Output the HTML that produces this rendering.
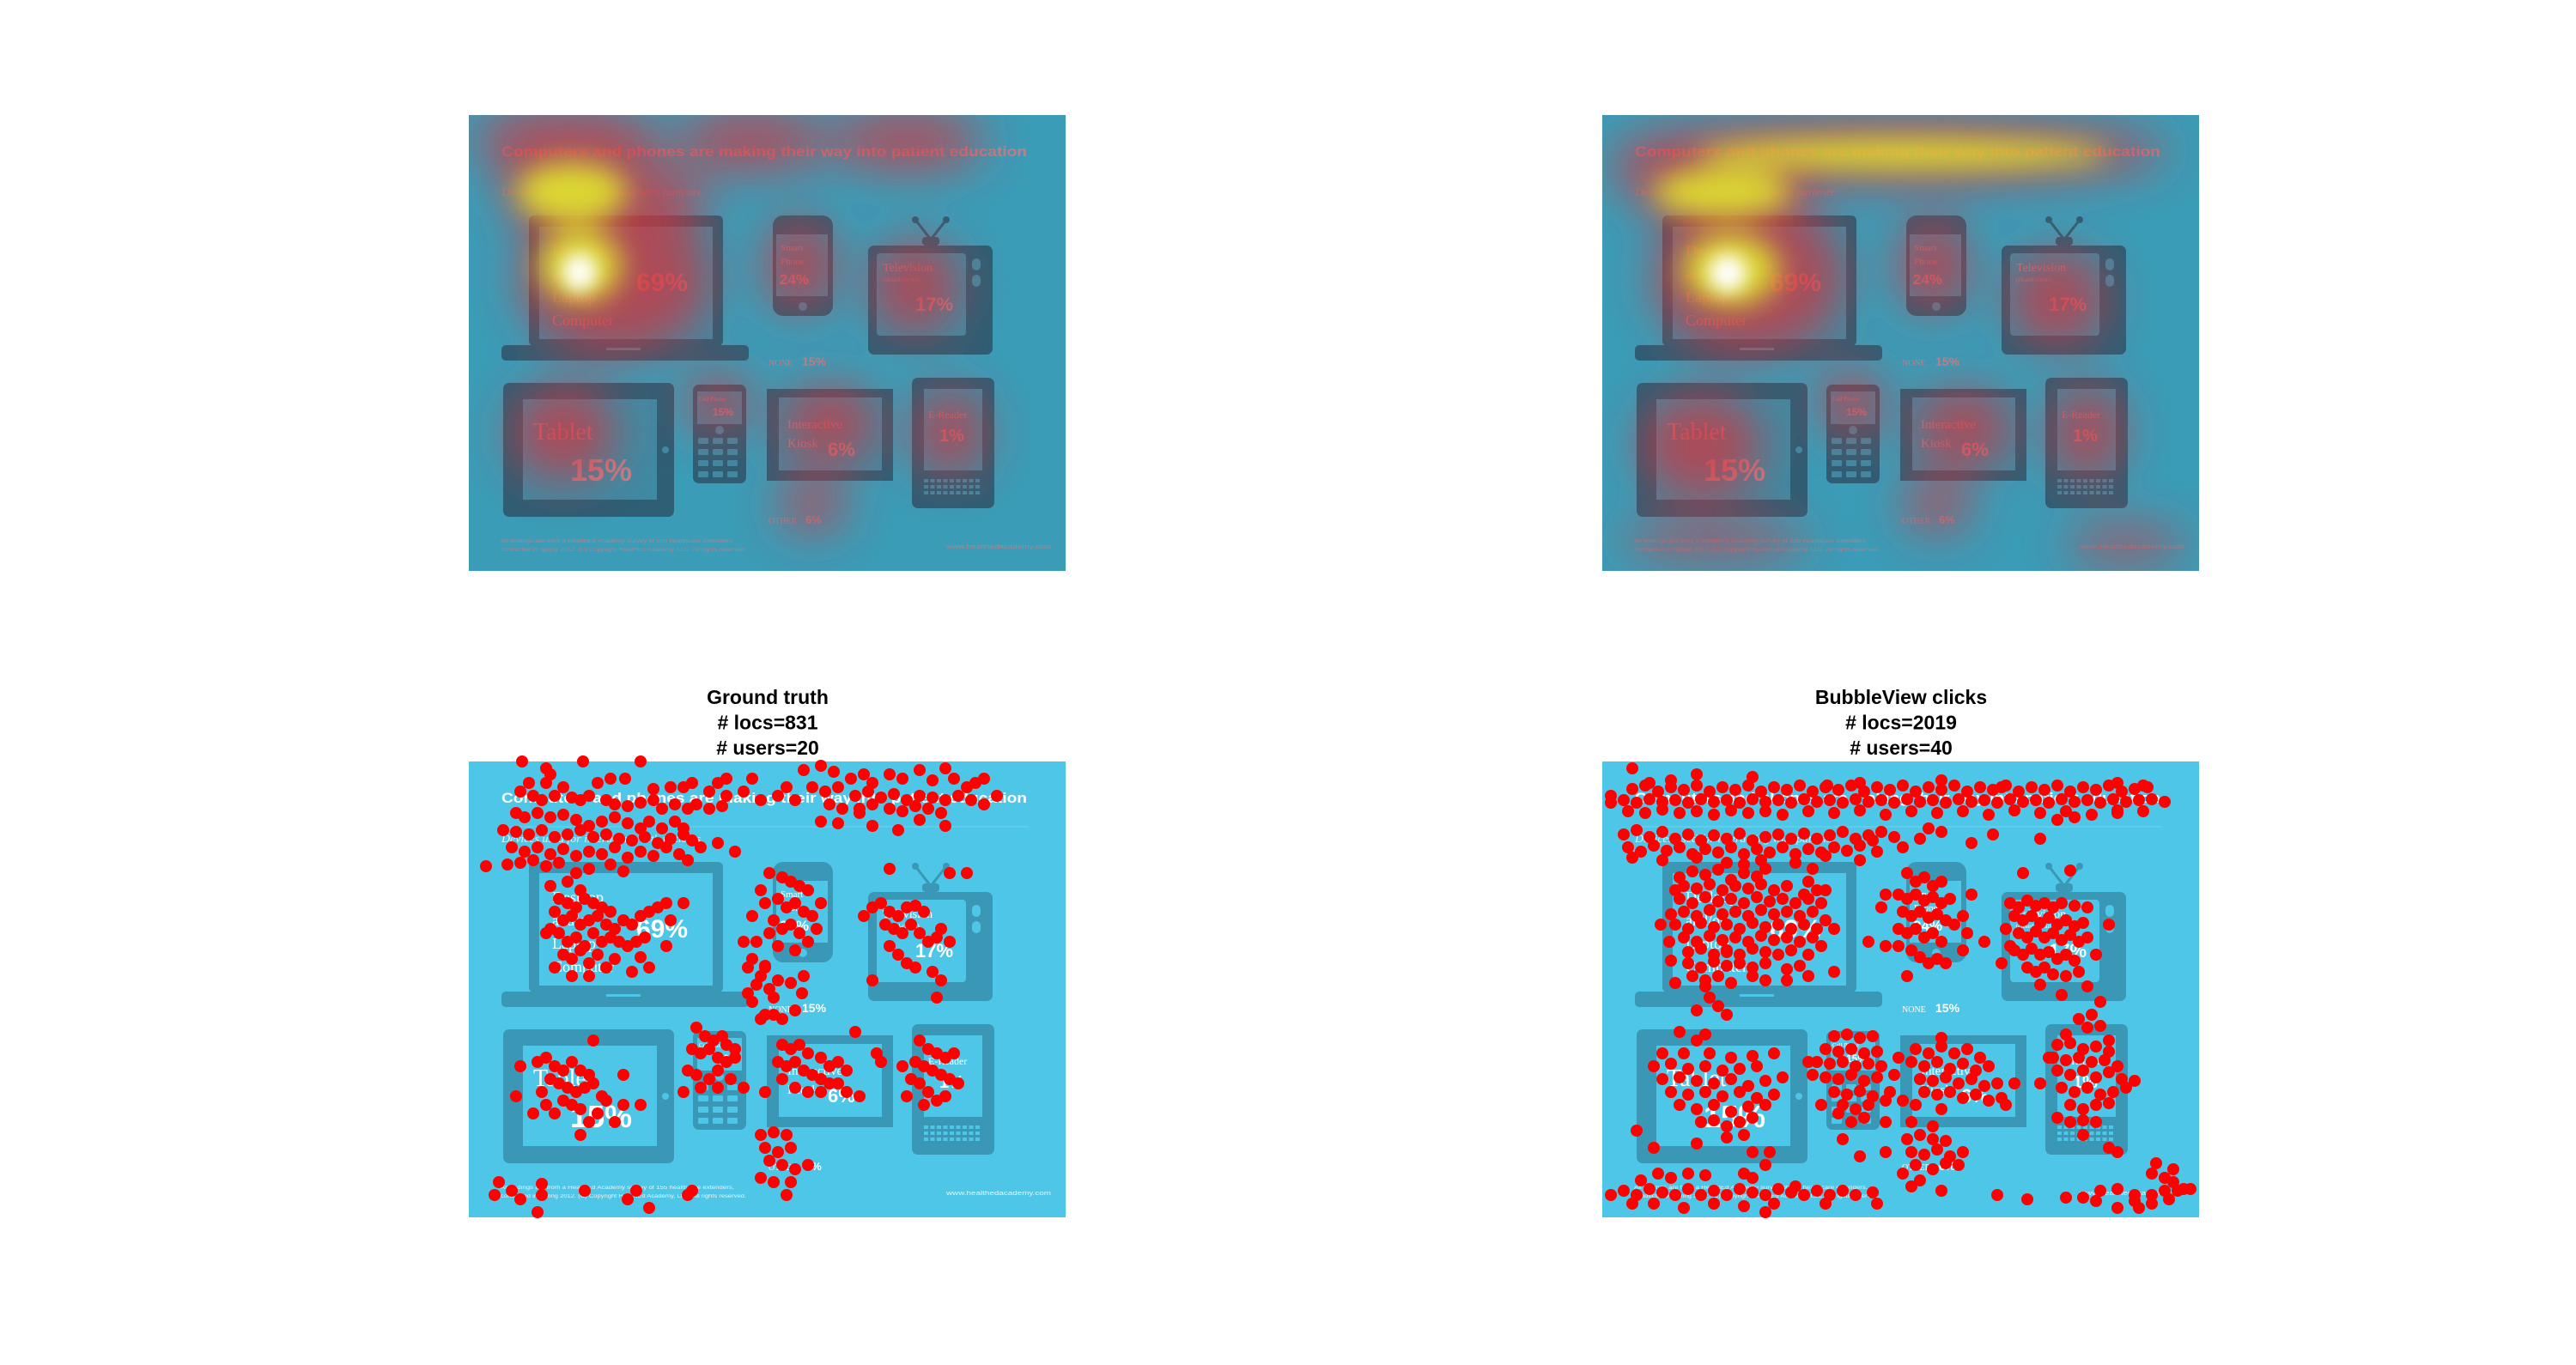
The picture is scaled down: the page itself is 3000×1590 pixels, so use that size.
<!DOCTYPE html>
<html><head><meta charset="utf-8"><style>
html,body{margin:0;padding:0;background:#fff;}
svg{display:block;}
</style></head><body>
<svg id="chart" width="3000" height="1590" viewBox="0 0 3000 1590" xmlns="http://www.w3.org/2000/svg">
<defs>
<filter id="b1" x="-50%" y="-50%" width="200%" height="200%"><feGaussianBlur stdDeviation="28"/></filter>
<filter id="b2" x="-50%" y="-50%" width="200%" height="200%"><feGaussianBlur stdDeviation="16"/></filter>
<filter id="b3" x="-50%" y="-50%" width="200%" height="200%"><feGaussianBlur stdDeviation="10"/></filter>
<clipPath id="pc"><rect x="0" y="0" width="695" height="531"/></clipPath>
</defs>
<g id="root"></g>
</svg>
<script>
// Panel placement
const panels = [
  {x:546, y:134, kind:'heat', heat:'gt'},
  {x:1866, y:134, kind:'heat', heat:'bv'},
  {x:546, y:887, kind:'dots', set:'gt'},
  {x:1866, y:887, kind:'dots', set:'bv'}
];
// Heat blobs: [x, y, rx, ry, level] level 1=red, 2=yellow, 3=white (panel coords)
const heatGT = [[115,30,110,40,1],[330,30,90,35,1],[510,30,90,35,1],[120,90,80,50,2],[130,175,60,60,2],[129,183,20,22,3],[385,175,40,55,1],[520,200,50,55,1],[110,370,60,55,1],[290,335,35,35,1],[420,360,55,45,1],[560,370,40,50,1],[400,455,40,30,1],[170,190,110,90,1],[160,95,120,40,1]];
const heatBV = [[340,42,320,38,1],[120,60,110,45,1],[350,45,300,26,2],[140,90,100,40,2],[150,180,70,60,2],[146,184,22,22,3],[385,175,40,55,1],[530,215,55,55,1],[115,385,70,60,1],[290,335,35,40,1],[420,365,55,45,1],[565,370,40,55,1],[130,495,110,20,1],[610,500,70,20,1],[390,455,40,30,1],[170,190,110,90,1]];
// Click locations (panel coords)
const gtPts = "62,0 133,0 200,0 90,8 95,15 70,25 90,25 110,30 150,25 165,20 182,20 215,32 235,30 250,30 260,25 290,25 300,20 330,20 60,35 75,40 85,45 100,40 120,42 130,45 140,40 160,45 170,50 185,52 200,48 215,45 225,55 240,50 255,55 265,50 280,55 295,52 55,60 65,65 80,60 95,65 110,62 125,68 140,75 155,70 170,65 185,72 200,78 210,70 225,78 240,70 250,78 40,80 55,82 70,85 85,80 100,88 115,85 130,80 145,88 160,85 175,90 190,92 205,88 220,95 235,90 250,85 260,92 50,100 65,105 80,100 95,108 110,102 125,110 140,105 155,108 170,100 185,112 200,105 215,110 230,100 245,108 255,115 45,120 60,118 75,115 90,122 105,118 140,125 165,120 180,128 20,122 270,100 290,95 310,105 390,10 410,5 425,12 445,20 460,15 470,25 490,15 505,20 525,10 540,22 555,8 565,20 580,30 590,25 600,20 400,30 415,35 430,30 450,40 465,35 480,42 495,38 510,45 525,40 540,42 555,45 570,40 585,45 600,50 420,50 435,55 455,55 470,50 490,55 505,58 520,52 535,55 550,60 380,45 360,40 320,35 340,45 300,40 280,35 410,70 430,72 455,60 470,75 525,68 555,75 500,80 370,30 615,40 95,145 115,140 125,130 130,150 105,160 115,165 125,170 135,160 145,165 155,170 165,175 100,175 110,185 120,180 130,190 140,185 150,180 160,190 170,195 180,185 190,190 200,180 210,175 220,170 230,165 95,195 105,200 115,210 125,205 135,215 145,200 155,210 165,205 175,210 185,215 195,210 205,205 110,225 120,230 130,220 140,235 150,225 160,240 170,230 190,245 200,228 90,200 100,240 120,250 140,250 210,240 230,215 235,185 250,165 350,130 365,135 375,140 385,145 395,150 345,165 360,160 370,170 380,165 390,175 400,180 355,185 365,195 375,190 385,200 395,210 405,195 410,165 340,150 350,200 330,180 335,210 360,215 380,220 345,238 325,240 470,170 480,165 490,175 500,180 510,170 520,168 530,175 485,190 495,195 505,200 515,190 525,200 535,210 545,205 550,195 560,210 490,215 500,225 510,235 520,240 540,245 550,255 470,255 545,275 460,180 490,125 560,130 580,130 320,210 330,230 335,260 325,270 330,280 340,250 345,240 350,265 355,275 360,255 345,295 340,300 355,295 365,300 380,290 375,258 390,250 388,270 60,355 80,350 90,345 100,355 110,360 120,350 130,360 140,365 95,370 105,375 115,380 125,385 135,380 145,375 155,390 85,385 90,400 100,410 110,395 120,400 130,405 140,420 150,410 160,395 170,420 180,400 130,435 75,410 55,390 180,365 200,400 145,325 265,310 275,320 285,325 295,320 300,330 310,335 260,335 270,340 280,335 290,345 300,350 310,345 255,360 265,365 280,370 290,360 305,370 320,380 250,385 270,380 290,380 365,330 375,335 385,330 395,340 410,345 420,355 430,350 440,360 360,350 370,355 380,350 390,360 400,365 410,370 420,375 365,370 380,380 395,385 410,385 430,375 440,385 455,390 345,385 450,315 475,340 480,350 525,325 535,335 545,340 555,345 565,340 520,350 530,355 540,360 550,365 560,370 570,375 515,370 525,375 535,385 545,395 555,390 510,390 530,400 505,355 340,435 355,432 370,435 345,450 360,455 375,450 350,465 365,470 380,475 395,470 340,485 355,490 370,505 375,490 35,490 50,500 30,505 60,510 85,505 85,492 135,500 80,525 185,510 195,500 255,505 260,500 210,520";
const bvPts = "35,32 50,28 65,35 80,30 95,33 110,28 125,35 140,30 155,33 170,28 185,35 200,30 215,33 230,28 245,35 260,30 275,33 290,28 305,35 320,30 335,33 350,28 365,35 380,30 395,33 410,28 425,35 440,30 455,33 470,28 485,35 500,30 515,33 530,28 545,35 560,30 575,33 590,28 605,35 620,32 635,30 25,45 40,48 55,44 70,47 85,45 100,48 115,44 130,47 145,45 160,48 175,44 190,47 205,45 220,48 235,44 250,47 265,45 280,48 295,44 310,47 325,45 340,48 355,44 370,47 385,45 400,48 415,44 430,47 445,45 460,48 475,44 490,47 505,45 520,48 535,44 550,47 565,45 580,48 595,44 610,47 625,45 640,44 655,47 30,58 50,60 70,56 90,60 110,58 130,62 150,57 170,60 190,58 210,62 240,58 270,60 300,57 330,62 360,58 390,60 420,58 450,62 480,57 510,60 540,58 570,62 600,57 630,58 35,8 110,15 80,22 55,25 175,18 300,25 262,28 395,22 465,30 600,25 630,28 10,48 10,40 550,65 600,60 530,68 25,85 40,80 55,88 70,82 85,90 100,85 115,92 130,86 145,90 160,84 175,92 190,88 205,85 220,90 235,84 250,90 265,86 280,82 295,90 310,86 325,82 340,88 30,100 45,105 60,98 75,104 90,100 105,108 120,102 135,106 150,100 165,108 180,102 195,106 210,100 225,108 240,102 255,106 270,100 285,104 300,98 315,92 35,112 70,115 110,112 145,118 185,115 225,118 260,110 190,125 245,125 165,120 370,90 380,78 395,82 430,95 455,85 510,90 300,115 320,105 350,100 90,135 105,128 120,132 135,126 150,138 165,130 180,134 240,140 250,150 85,150 95,145 110,148 125,143 140,150 155,145 170,148 185,143 200,150 215,145 235,155 260,150 90,160 105,165 120,158 135,163 150,160 165,165 180,158 195,163 210,160 225,165 240,160 255,165 80,178 95,175 110,180 125,173 140,178 155,175 170,180 185,173 200,178 215,175 230,180 245,175 260,185 85,190 100,195 115,188 130,193 145,190 160,195 175,188 190,193 205,190 220,195 235,190 250,195 270,195 95,205 110,210 125,203 140,208 155,205 170,210 185,203 200,208 215,205 230,210 245,205 255,215 100,222 115,218 130,225 145,220 160,225 175,218 190,222 205,225 220,220 240,225 100,235 115,240 130,233 145,238 160,235 175,240 190,235 215,242 230,238 105,250 120,255 135,250 150,258 175,250 190,255 215,255 240,250 270,245 80,232 78,210 68,190 85,258 120,262 125,275 135,285 145,295 110,290 145,222 355,130 365,140 375,135 385,145 395,140 345,155 355,160 365,155 375,162 385,158 395,165 405,160 350,175 360,180 370,175 380,182 390,178 400,185 410,190 345,195 355,200 365,195 375,205 385,200 395,210 360,220 370,228 380,235 390,230 420,180 430,155 425,200 445,210 420,220 330,215 345,215 355,250 400,235 310,210 330,155 325,170 475,165 485,170 495,162 505,168 515,165 525,170 535,165 550,168 565,170 590,190 480,180 490,185 500,180 510,188 520,182 530,190 540,185 550,192 560,188 470,195 485,200 495,205 505,198 515,205 525,200 535,208 545,202 555,210 565,205 480,220 490,225 500,218 510,225 520,222 530,230 540,225 550,232 495,240 505,245 515,240 525,248 540,250 555,245 510,260 565,262 535,272 475,215 575,225 490,130 545,127 465,235 580,280 90,315 120,318 110,325 70,340 95,340 125,340 150,345 175,343 200,340 60,355 80,352 100,358 120,355 140,360 160,358 180,355 70,370 90,368 110,372 130,375 150,370 170,378 190,372 210,368 80,385 100,388 120,385 140,390 160,385 180,392 200,388 90,400 110,405 130,400 150,408 170,402 190,400 115,420 130,418 145,425 160,420 175,415 145,438 165,435 110,445 175,455 40,430 65,480 195,455 270,320 285,318 300,322 315,320 260,335 275,338 290,335 305,340 320,338 250,350 265,352 280,350 295,355 310,352 325,355 260,368 275,370 290,365 305,372 320,368 270,385 285,388 300,384 315,390 280,400 295,405 310,400 290,420 305,415 330,420 245,365 240,350 255,400 275,410 335,385 330,395 365,335 380,340 395,332 410,340 425,335 440,345 360,350 375,355 390,350 405,358 420,352 435,360 450,355 370,370 385,372 400,368 415,375 430,370 445,378 460,375 375,385 390,388 405,385 420,392 435,388 450,395 465,392 365,400 395,405 345,345 340,365 350,395 395,322 470,400 480,375 360,420 385,425 530,330 545,328 560,335 575,332 590,338 525,345 540,348 555,345 570,350 585,348 600,355 530,360 545,365 560,360 575,368 590,362 605,370 535,380 550,385 565,380 580,388 595,385 545,400 560,405 575,400 590,398 530,415 545,420 560,418 575,420 560,435 610,380 620,372 540,318 565,310 580,308 590,325 510,375 520,345 555,300 570,295 355,440 370,435 385,440 400,442 360,455 375,458 390,452 405,460 420,455 365,470 385,475 400,468 415,470 350,480 370,488 360,495 330,455 300,460 280,440 10,505 25,500 40,505 55,498 70,502 85,505 100,498 115,505 130,500 145,505 160,498 175,502 190,505 205,498 220,502 235,505 250,500 265,505 280,500 295,505 315,502 320,515 35,515 60,515 95,520 130,515 165,518 190,525 200,515 260,515 45,488 80,485 100,480 120,482 165,480 175,485 190,470 225,495 60,450 395,500 460,505 495,510 560,508 580,500 600,498 620,505 640,505 655,500 670,500 685,498 575,512 620,512 640,515 660,510 540,508 600,520 625,520 645,468 640,480 655,485 665,475 665,490 677,498 590,450 600,455";
const titleGT = ["Ground truth", "# locs=831", "# users=20"];
const titleBV = ["BubbleView clicks", "# locs=2019", "# users=40"];

const NS = "http://www.w3.org/2000/svg";
function mk(tag, attrs, parent){ const e=document.createElementNS(NS,tag); for(const k in attrs) e.setAttribute(k,attrs[k]); if(parent) parent.appendChild(e); return e; }
function txt(parent, x, y, s, attrs){ const t=mk('text', Object.assign({x:x,y:y},attrs), parent); t.textContent=s; return t; }
function parsePts(s){ return s.trim().split(/\s+/).map(p=>p.split(',').map(Number)); }

function infographic(g, th){
  mk('rect',{x:0,y:0,width:695,height:531,fill:th.bg},g);
  const dev=th.dev, scr=th.scr, tc=th.text;
  const lap=mk('g',{},g);  
  mk('rect',{x:70,y:117,width:226,height:152,rx:6,fill:dev},lap);
  mk('rect',{x:82,y:130,width:202,height:131,fill:scr},lap);
  mk('rect',{x:38,y:268,width:288,height:18,rx:5,fill:dev},lap);
  mk('rect',{x:160,y:271,width:40,height:3,fill:scr},lap);
  const ph=mk('g',{},g);  
  mk('rect',{x:354,y:117,width:70,height:117,rx:12,fill:dev},ph);
  mk('rect',{x:358,y:139,width:60,height:72,fill:scr},ph);
  mk('circle',{cx:389,cy:223,r:5,fill:scr},ph);
  const tv=mk('g',{},g);  
  mk('line',{x1:520,y1:122,x2:538,y2:145,stroke:dev,'stroke-width':3},tv);
  mk('line',{x1:556,y1:122,x2:538,y2:145,stroke:dev,'stroke-width':3},tv);
  mk('circle',{cx:520,cy:122,r:4,fill:dev},tv); mk('circle',{cx:556,cy:122,r:4,fill:dev},tv);
  mk('rect',{x:528,y:142,width:20,height:10,rx:4,fill:dev},tv);
  mk('rect',{x:465,y:152,width:145,height:127,rx:7,fill:dev},tv);
  mk('rect',{x:475,y:161,width:104,height:96,rx:4,fill:scr},tv);
  mk('rect',{x:586,y:167,width:10,height:14,rx:5,fill:scr},tv);
  mk('rect',{x:586,y:186,width:10,height:14,rx:5,fill:scr},tv);
  const tb=mk('g',{},g);  
  mk('rect',{x:40,y:312,width:199,height:156,rx:7,fill:dev},tb);
  mk('rect',{x:63,y:331,width:156,height:117,fill:scr},tb);
  mk('circle',{cx:229,cy:390,r:4,fill:scr},tb);
  const cp=mk('g',{},g);  
  mk('rect',{x:261,y:314,width:62,height:115,rx:7,fill:dev},cp);
  mk('rect',{x:266,y:322,width:52,height:38,fill:scr},cp);
  mk('circle',{cx:292,cy:367,r:5,fill:scr},cp);
  for(let r=0;r<4;r++) for(let c=0;c<3;c++) mk('rect',{x:267+c*17,y:376+r*13,width:12,height:7,rx:1,fill:scr},cp);
  const ks=mk('g',{},g);  
  mk('rect',{x:347,y:319,width:147,height:107,fill:dev},ks);
  mk('rect',{x:361,y:329,width:120,height:85,fill:scr},ks);
  const er=mk('g',{},g);  
  mk('rect',{x:516,y:306,width:96,height:152,rx:7,fill:dev},er);
  mk('rect',{x:530,y:319,width:68,height:95,fill:scr},er);
  for(let r=0;r<3;r++) for(let c=0;c<9;c++) mk('rect',{x:530+c*7.5,y:424+r*7,width:5,height:4,fill:scr},er);
  const T=(x,y,s,a,name)=>{const t=txt(g,x,y,s,a);   return t;};
  T(38,48,"Computers and phones are making their way into patient education",{fill:tc,'font-family':'Liberation Sans, sans-serif','font-weight':'bold','font-size':17,textLength:612,lengthAdjust:'spacingAndGlyphs'},'infographic-title');
  mk('line',{x1:38,y1:76,x2:652,y2:76,stroke:th.rule,'stroke-width':1},g);
  T(38,94,"Devices used for interacting with patients",{fill:tc,'font-family':'Liberation Serif, serif','font-style':'italic','font-size':13,textLength:232,lengthAdjust:'spacingAndGlyphs',opacity:0.8},'infographic-subtitle');
  const serif={fill:tc,'font-family':'Liberation Serif, serif','font-size':18};
  const bold={fill:tc,'font-family':'Liberation Sans, sans-serif','font-weight':'bold'};
  T(97,164,"Desktop",serif,'laptop-label'); T(97,191,"and/or",serif,'laptop-label-2'); T(97,218,"Laptop",serif,'laptop-label-3'); T(97,245,"Computer",serif,'laptop-label-4');
  T(195,205,"69%",Object.assign({'font-size':30},bold),'laptop-value');
  T(363,158,"Smart",Object.assign({},serif,{'font-size':11}),'smartphone-label'); T(363,174,"Phone",Object.assign({},serif,{'font-size':11}),'smartphone-label-2');
  T(362,197,"24%",Object.assign({'font-size':17},bold),'smartphone-value');
  T(482,182,"Television",Object.assign({},serif,{'font-size':14}),'tv-label');
  T(482,194,"(closed-circuit)",Object.assign({},serif,{'font-size':7}),'tv-sublabel');
  T(520,228,"17%",Object.assign({'font-size':22},bold),'tv-value');
  T(349,292,"NONE",Object.assign({},serif,{'font-size':10}),'none-label');
  T(388,292,"15%",Object.assign({'font-size':14},bold),'none-value');
  T(75,378,"Tablet",Object.assign({},serif,{'font-size':28}),'tablet-label');
  T(118,426,"15%",Object.assign({'font-size':36},bold),'tablet-value');
  T(268,333,"Cell Phone",Object.assign({},serif,{'font-size':7}),'cellphone-label');
  T(284,350,"15%",Object.assign({'font-size':12},bold),'cellphone-value');
  T(371,365,"Interactive",Object.assign({},serif,{'font-size':15}),'kiosk-label');
  T(371,387,"Kiosk",Object.assign({},serif,{'font-size':15}),'kiosk-label-2');
  T(418,397,"6%",Object.assign({'font-size':22},bold),'kiosk-value');
  T(535,353,"E-Reader",Object.assign({},serif,{'font-size':12}),'ereader-label');
  T(548,380,"1%",Object.assign({'font-size':20},bold),'ereader-value');
  T(349,476,"OTHER",Object.assign({},serif,{'font-size':10}),'other-label');
  T(392,476,"6%",Object.assign({'font-size':13},bold),'other-value');
  const small={fill:tc,'font-family':'Liberation Sans, sans-serif','font-size':6,opacity:0.85};
  T(37,498,"All findings are from a HealthEd Academy survey of 155 healthcare extenders,",Object.assign({textLength:272,lengthAdjust:'spacingAndGlyphs'},small),'footnote-1');
  T(37,508,"conducted in Spring 2012. (C) Copyright HealthEd Academy, LLC. All rights reserved.",Object.assign({textLength:286,lengthAdjust:'spacingAndGlyphs'},small),'footnote-2');
  T(556,505,"www.healthedacademy.com",Object.assign({textLength:122,lengthAdjust:'spacingAndGlyphs'},small,{'font-size':7}),'source-url');
}

const root=document.getElementById('root');
const themeHeat={bg:'#3b9cb7',dev:'#2e5f75',scr:'#3f8aa3',text:'#c08088',rule:'#4a9ab0'};
const themeBright={bg:'#4dc6e8',dev:'#3a97b5',scr:'#4dc6e8',text:'#ffffff',rule:'#6fd2ee'};
const heatSets={gt:heatGT,bv:heatBV};
const ptSets={gt:parsePts(gtPts),bv:parsePts(bvPts)};
const titles={gt:titleGT,bv:titleBV};

panels.forEach((p,i)=>{
  const g=mk('g',{transform:`translate(${p.x},${p.y})`},root);
  
  
  const inner=mk('g',{'clip-path':'url(#pc)'},g);
  if(p.kind==='heat'){
    infographic(inner, themeHeat);
    const blobs=heatSets[p.heat];
    const lr=mk('g',{filter:'url(#b1)',opacity:0.72},inner);
     
    blobs.forEach(b=>{ const e=mk('ellipse',{cx:b[0],cy:b[1],rx:b[2],ry:b[3],fill:'#d8323a'},lr);
        });
    const ly=mk('g',{filter:'url(#b2)',opacity:0.85},inner);
    blobs.filter(b=>b[4]>=2).forEach(b=>{ const e=mk('ellipse',{cx:b[0],cy:b[1],rx:b[2]*0.8,ry:b[3]*0.7,fill:'#e4f02a'},ly);
        });
    const lw=mk('g',{filter:'url(#b3)'},inner);
    blobs.filter(b=>b[4]>=3).forEach(b=>{ const e=mk('ellipse',{cx:b[0],cy:b[1],rx:b[2],ry:b[3],fill:'#ffffff'},lw);
        });
  } else {
    infographic(inner, themeBright);
    const dg=mk('g',{},g);
     
    ptSets[p.set].forEach(pt=>{ const c=mk('circle',{cx:pt[0],cy:pt[1],r:7,fill:'#ff0000'},dg);
        });
    const tl=titles[p.set];
    tl.forEach((s,j)=>{ const t=txt(root,p.x+348,820+j*29.5,s,{'text-anchor':'middle','font-family':'Liberation Sans, sans-serif','font-weight':'bold','font-size':23,fill:'#000'});
        });
  }
});
</script>
</body></html>
